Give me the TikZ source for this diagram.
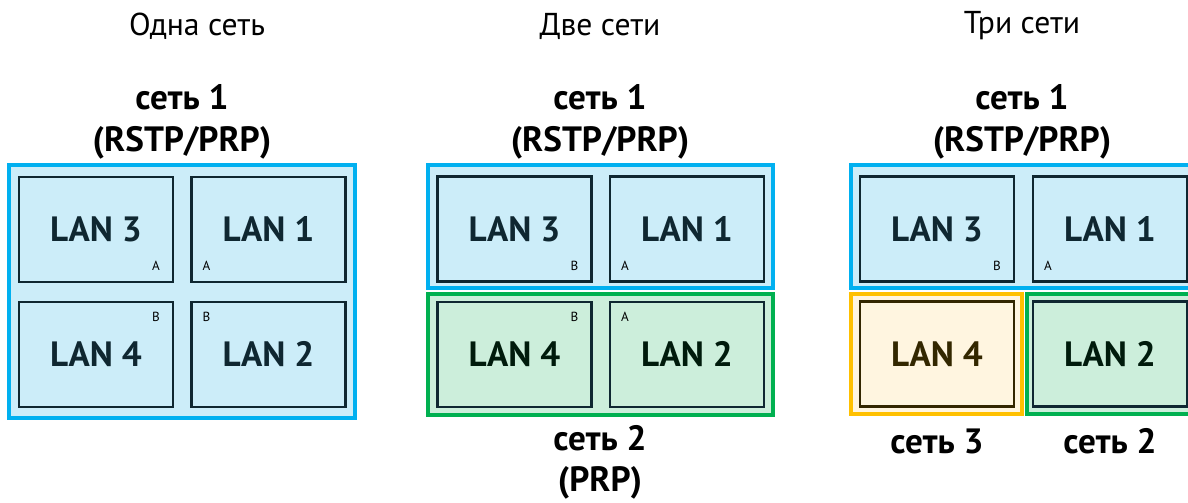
\documentclass[tikz,border=0pt]{standalone}
\usepackage{fontspec}
\setmainfont{PT Sans}
\usetikzlibrary{positioning}
\definecolor{nblue}{HTML}{00B0F0}
\definecolor{nbluefill}{HTML}{CCEDF9}
\definecolor{ngreen}{HTML}{00B050}
\definecolor{ngreenfill}{HTML}{CCEEDB}
\definecolor{nyellow}{HTML}{FFC000}
\definecolor{nyellowfill}{HTML}{FFF5E0}
\definecolor{mdark}{HTML}{0F2731}
\tikzset{lan/.style = {draw=mdark, line width=1.2pt, minimum width=3.08cm, minimum height=2.1cm,
                       inner sep=0pt, font=\bfseries\fontsize{20}{24}\selectfont},
         tag/.style = {font=\fontsize{7.5}{9}\selectfont, inner sep=0pt},
         head/.style = {align=center, font=\bfseries\fontsize{20}{23.5}\selectfont},
         title/.style = {font=\fontsize{18}{21}\selectfont}}

\begin{document}
\begin{tikzpicture}[x=0.02cm, y=-0.02cm]
      \useasboundingbox (0, 0) rectangle (1188, 503);
      \clip (0, 0) rectangle (1188, 503);

      % one network
      \node [title] (t1) at (197, 26) {Одна сеть};
      \node [head] (h1) at (182, 122) {сеть 1\\(RSTP/PRP)};
      \draw [nblue, fill=nbluefill, line width=1.9pt] (9, 165) rectangle (355, 418);
      \node [lan, text=mdark] (a3) at (96, 229.5) {LAN 3};
      \node [lan, text=mdark] (a1) at (268.5, 229.5) {LAN 1};
      \node [lan, text=mdark] (a4) at (96, 354.5) {LAN 4};
      \node [lan, text=mdark] (a2) at (268.5, 354.5) {LAN 2};
      \node [tag] (a3t) at ([shift={(-18, -17)}]a3.south east) {A};
      \node [tag] (a1t) at ([shift={(16, -17)}]a1.south west) {A};
      \node [tag] (a4t) at ([shift={(-18, 16)}]a4.north east) {B};
      \node [tag] (a2t) at ([shift={(16, 16)}]a2.north west) {B};

      % two networks
      \node [title] (t2) at (600, 26) {Две сети};
      \node [head] (h2) at (600, 122) {сеть 1\\(RSTP/PRP)};
      \draw [nblue, fill=nbluefill, line width=1.9pt] (428, 165) rectangle (773, 288);
      \draw [ngreen, fill=ngreenfill, line width=1.9pt] (428, 294) rectangle (773, 415);
      \node [lan, text=mdark] (b3) at (514.5, 229) {LAN 3};
      \node [lan, text=mdark] (b1) at (687, 229) {LAN 1};
      \node [lan, text=black!85!ngreen] (b4) at (514.5, 354.5) {LAN 4};
      \node [lan, text=black!85!ngreen] (b2) at (687, 354.5) {LAN 2};
      \node [tag] (b3t) at ([shift={(-18, -17)}]b3.south east) {B};
      \node [tag] (b1t) at ([shift={(16, -17)}]b1.south west) {A};
      \node [tag] (b4t) at ([shift={(-18, 16)}]b4.north east) {B};
      \node [tag] (b2t) at ([shift={(16, 16)}]b2.north west) {A};
      \node [head] (f2) at (600, 462) {сеть 2\\(PRP)};

      % three networks
      \node [title] (t3) at (1022, 26) {Три сети};
      \node [head] (h3) at (1022, 122) {сеть 1\\(RSTP/PRP)};
      \draw [nblue, fill=nbluefill, line width=1.9pt] (851, 165) rectangle (1196, 288);
      \draw [nyellow, fill=nyellowfill, line width=1.9pt] (851, 294) rectangle (1022, 414);
      \draw [ngreen, fill=ngreenfill, line width=1.9pt] (1027, 294) rectangle (1196, 414);
      \node [lan, text=mdark] (c3) at (937, 229) {LAN 3};
      \node [lan, text=mdark] (c1) at (1110, 229) {LAN 1};
      \node [lan, draw=black!80!nyellow, text=black!80!nyellow] (c4) at (937, 354) {LAN 4};
      \node [lan, text=black!85!ngreen] (c2) at (1110, 354) {LAN 2};
      \node [tag] (c3t) at ([shift={(-18, -17)}]c3.south east) {B};
      \node [tag] (c1t) at ([shift={(16, -17)}]c1.south west) {A};
      \node [head] (f3) at (937, 441) {сеть 3};
      \node [head] (f4) at (1110, 441) {сеть 2};
\end{tikzpicture}
\end{document}
